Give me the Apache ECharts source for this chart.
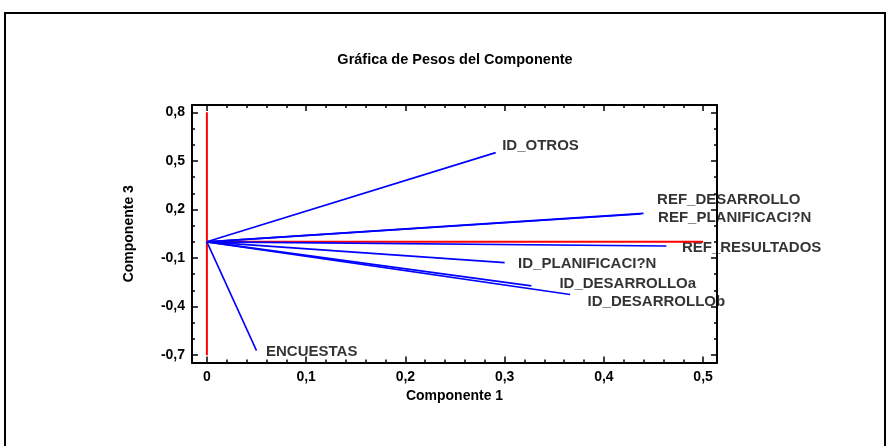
<!DOCTYPE html>
<html>
<head>
<meta charset="utf-8">
<script src="https://cdn.jsdelivr.net/npm/echarts@6/dist/echarts.min.js"></script>
<style>
  html, body { margin: 0; padding: 0; background: #fff; }
  #chart { width: 887px; height: 446px; }
</style>
</head>
<body>
<div id="chart"></div>
<script>
// ---- data ----
const varNames = ['ID_OTROS', 'REF_DESARROLLO', 'REF_PLANIFICACI?N', 'REF_RESULTADOS',
                  'ID_PLANIFICACI?N', 'ID_DESARROLLOa', 'ID_DESARROLLOb', 'ENCUESTAS'];
const comp1 = [0.291, 0.440, 0.437, 0.463, 0.300, 0.327, 0.366, 0.050];
const comp3 = [0.551, 0.176, 0.172, -0.026, -0.128, -0.272, -0.325, -0.672];

// red reference axes
const refVertX = [0, 0];
const refVertY = [-0.7, 0.8];
const refHorX = [0, 0.5];
const refHorY = [0, 0];

// ticks
const xMajorTicks = [0, 0.1, 0.2, 0.3, 0.4, 0.5];
const xMinorTicks = [0.02, 0.04, 0.06, 0.08, 0.12, 0.14, 0.16, 0.18, 0.22, 0.24, 0.26, 0.28,
                     0.32, 0.34, 0.36, 0.38, 0.42, 0.44, 0.46, 0.48];
const yMajorTicks = [-0.7, -0.4, -0.1, 0.2, 0.5, 0.8];
const yMinorTicks = [-0.6, -0.5, -0.3, -0.2, 0, 0.1, 0.3, 0.4, 0.6, 0.7];

const title = 'Gráfica de Pesos del Componente';
const xName = 'Componente 1';
const yName = 'Componente 3';

// ---- styling ----
const X_MIN = -0.015, X_MAX = 0.514, Y_MIN = -0.745, Y_MAX = 0.845;
const FONT = 'Liberation Sans, Arial, sans-serif';
const labelOffsets = {
  'ID_OTROS': [6, -7],
  'REF_DESARROLLO': [13, -13.5],
  'REF_PLANIFICACI?N': [17, 4],
  'REF_RESULTADOS': [15, 2],
  'ID_PLANIFICACI?N': [13, 1.5],
  'ID_DESARROLLOa': [27.5, -2.5],
  'ID_DESARROLLOb': [17, 7],
  'ENCUESTAS': [9, 1]
};
const fmt = v => String(v).replace('.', ',');

function xAxisDef(pos, ticks, len, showLabel, showLine, extra) {
  return Object.assign({
    type: 'value', position: pos, min: X_MIN, max: X_MAX,
    axisLine: { show: showLine, onZero: false, lineStyle: { color: '#000', width: 2 } },
    axisTick: { show: true, inside: true, length: len, customValues: ticks, lineStyle: { color: '#000', width: 1.5 } },
    axisLabel: showLabel ? { show: true, customValues: ticks, formatter: fmt, margin: 8,
      color: '#000', fontFamily: FONT, fontWeight: 'bold', fontSize: 14 } : { show: false },
    splitLine: { show: false }
  }, extra || {});
}
function yAxisDef(pos, ticks, len, showLabel, showLine, extra) {
  return Object.assign({
    type: 'value', position: pos, min: Y_MIN, max: Y_MAX,
    axisLine: { show: showLine, onZero: false, lineStyle: { color: '#000', width: 2 } },
    axisTick: { show: true, inside: true, length: len, customValues: ticks, lineStyle: { color: '#000', width: 1.5 } },
    axisLabel: showLabel ? { show: true, customValues: ticks, formatter: fmt, margin: 7,
      color: '#000', fontFamily: FONT, fontWeight: 'bold', fontSize: 14 } : { show: false },
    splitLine: { show: false }
  }, extra || {});
}

const series = [];
// red reference lines
series.push({
  type: 'line', xAxisIndex: 0, yAxisIndex: 0, silent: true, symbol: 'none', animation: false,
  lineStyle: { color: '#ff0000', width: 2 },
  data: refVertX.map((x, i) => [x, refVertY[i]])
});
series.push({
  type: 'line', xAxisIndex: 0, yAxisIndex: 0, silent: true, symbol: 'none', animation: false,
  lineStyle: { color: '#ff0000', width: 2 },
  data: refHorX.map((x, i) => [x, refHorY[i]])
});
// blue loading vectors
varNames.forEach((n, i) => {
  series.push({
    type: 'line', name: n, xAxisIndex: 0, yAxisIndex: 0, silent: true, symbol: 'none', animation: false,
    lineStyle: { color: '#0000ff', width: 1.6 },
    data: [[0, 0], [comp1[i], comp3[i]]]
  });
});
// labels
series.push({
  type: 'scatter', xAxisIndex: 0, yAxisIndex: 0, silent: true, animation: false,
  symbolSize: 1, itemStyle: { color: 'rgba(0,0,0,0)' },
  data: varNames.map((n, i) => ({
    value: [comp1[i], comp3[i]], name: n,
    label: { show: true, position: 'right', distance: 0, offset: labelOffsets[n],
      formatter: n, color: '#000', fontFamily: FONT, fontWeight: 'bold', fontSize: 15 }
  }))
});

const chart = echarts.init(document.getElementById('chart'), null, { renderer: 'canvas' });
chart.setOption({
  backgroundColor: '#fff',
  animation: false,
  grid: { left: 192, right: 170, top: 105, bottom: 83.5, containLabel: false },
  xAxis: [
    xAxisDef('bottom', xMajorTicks, 6, true, true, {
      name: xName, nameLocation: 'middle', nameGap: 26,
      nameTextStyle: { color: '#000', fontFamily: FONT, fontWeight: 'bold', fontSize: 14 }
    }),
    xAxisDef('bottom', xMinorTicks, 3, false, false),
    xAxisDef('top', xMajorTicks, 6, false, true),
    xAxisDef('top', xMinorTicks, 3, false, false)
  ],
  yAxis: [
    yAxisDef('left', yMajorTicks, 6, true, true, {
      name: yName, nameLocation: 'middle', nameGap: 56, nameRotate: 90,
      nameTextStyle: { color: '#000', fontFamily: FONT, fontWeight: 'bold', fontSize: 14 }
    }),
    yAxisDef('left', yMinorTicks, 3, false, false),
    yAxisDef('right', yMajorTicks, 6, false, true),
    yAxisDef('right', yMinorTicks, 3, false, false)
  ],
  graphic: [
    { type: 'rect', silent: true, z: -1,
      shape: { x: 5, y: 13, width: 880, height: 460 },
      style: { fill: 'none', stroke: '#000', lineWidth: 2 } },
    { type: 'text', silent: true, x: 455, y: 60,
      style: { text: title, textAlign: 'center', textVerticalAlign: 'middle',
        font: 'bold 14.5px ' + FONT, fill: '#000' } }
  ],
  series: series
});
</script>
</body>
</html>
